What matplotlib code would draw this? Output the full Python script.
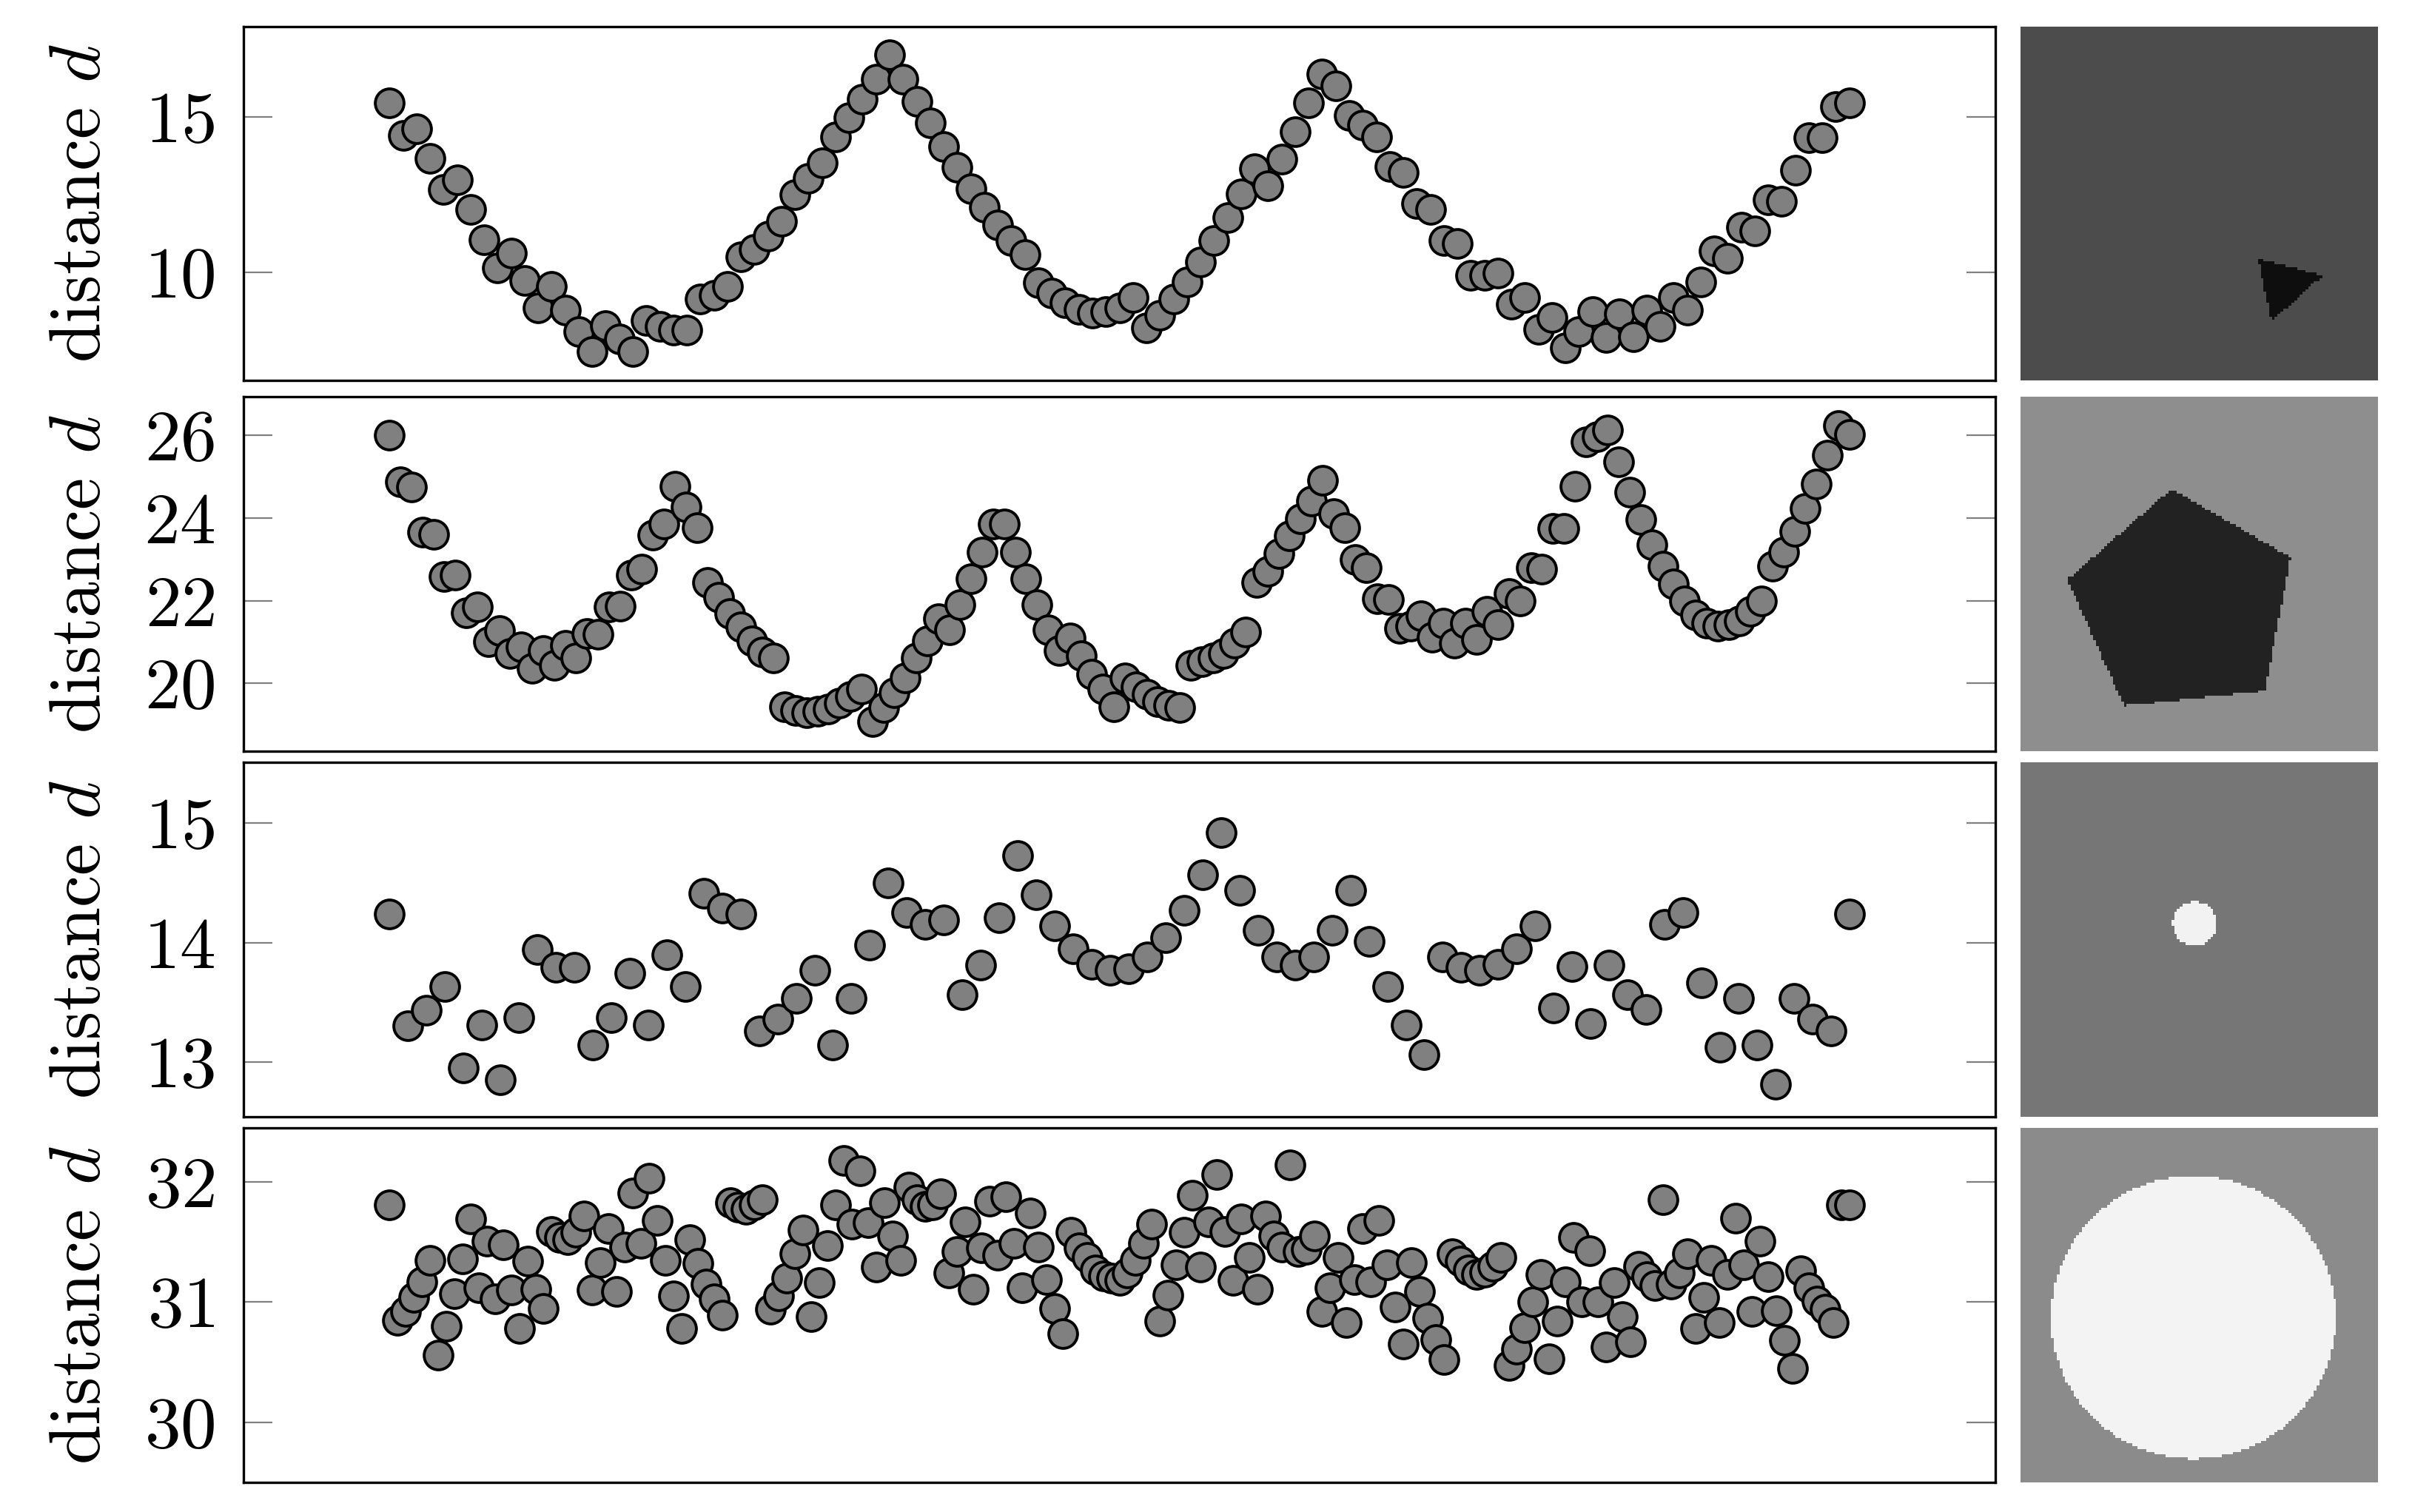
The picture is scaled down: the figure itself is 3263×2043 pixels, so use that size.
import numpy as np
import matplotlib
matplotlib.use('Agg')
from matplotlib import pyplot as plt
from matplotlib.path import Path

plt.rcParams['font.family'] = 'serif'
plt.rcParams['font.serif'] = ['cmr10']
plt.rcParams['mathtext.fontset'] = 'cm'
plt.rcParams['axes.formatter.use_mathtext'] = True

# distance d (samples evenly spaced along the contour)
d_triangle = [15.44, 14.40, 14.62, 13.66, 12.67, 12.97, 12.01, 11.05, 10.14, 10.61,
              9.74, 8.86, 9.54, 8.78, 8.10, 7.46, 8.30, 7.86, 7.46, 8.46,
              8.26, 8.14, 8.14, 9.14, 9.26, 9.54, 10.49, 10.73, 11.17, 11.65,
              12.49, 13.01, 13.52, 14.36, 14.96, 15.56, 16.20, 16.99, 16.20, 15.48,
              14.80, 14.04, 13.37, 12.69, 12.09, 11.53,
              11.01, 10.57, 9.66, 9.34, 9.02, 8.82, 8.70, 8.74, 8.86, 9.18,
              8.22, 8.62, 9.14, 9.70, 10.33, 11.01, 11.77, 12.53, 13.33, 12.77,
              13.64, 14.52, 15.44, 16.36, 16.00, 15.04, 14.72, 14.36, 13.41, 13.21,
              12.21, 12.01, 11.01, 10.93, 9.90, 9.90, 9.98, 8.98, 9.18, 8.18,
              8.54, 7.58, 8.10, 8.74, 7.90, 8.66, 7.94, 8.78, 8.26, 9.18,
              8.78, 9.70, 10.69, 10.45, 11.45, 11.33, 12.33, 12.29, 13.29, 14.32,
              14.32, 15.32, 15.44]

d_pentagon = [26.00, 24.88, 24.74, 23.65, 23.60, 22.59, 22.62, 21.71, 21.84, 21.00,
              21.27, 20.73, 20.88, 20.37, 20.79, 20.43, 20.91, 20.61, 21.21, 21.18,
              21.84, 21.87, 22.62, 22.77, 23.59, 23.86, 24.76, 24.26, 23.77, 22.44,
              22.08, 21.69, 21.36, 21.03, 20.76, 20.61, 19.44, 19.35, 19.29, 19.32,
              19.38, 19.53, 19.68, 19.86, 19.08, 19.41, 19.77, 20.13, 20.61, 21.03,
              21.57, 21.30, 21.90, 22.53, 23.17, 23.86, 23.86, 23.17, 22.53, 21.90,
              21.30, 20.79, 21.09, 20.67, 20.22, 19.86,
              19.44, 20.13, 19.92, 19.74, 19.56, 19.47, 19.42, 20.43, 20.52, 20.61,
              20.73, 20.97, 21.24, 22.44, 22.71, 23.14, 23.56, 23.98, 24.40, 24.91,
              24.10, 23.77, 22.99, 22.80, 22.05, 22.02, 21.33, 21.39, 21.63, 21.12,
              21.45, 20.97, 21.45, 21.06, 21.75, 21.42, 22.17, 21.99, 22.80, 22.77,
              23.74, 23.74, 24.77, 25.84, 25.96, 26.13, 25.35, 24.62, 23.96, 23.36,
              22.83, 22.41, 21.99, 21.66, 21.45, 21.39, 21.42, 21.51, 21.75, 21.99,
              22.83, 23.17, 23.68, 24.22, 24.82, 25.51, 26.23, 26.01]

d_small_disc = [14.24, 13.30, 13.43, 13.63, 12.95, 13.31, 12.85, 13.37, 13.94, 13.79,
                13.79, 13.14, 13.37, 13.74, 13.31, 13.90, 13.63, 14.41, 14.29, 14.24,
                13.26, 13.36, 13.53, 13.77, 13.14, 13.53, 13.98, 14.50, 14.25, 14.15,
                14.19, 13.56, 13.81, 14.21, 14.73, 14.40, 14.14, 13.95, 13.82, 13.77,
                13.78, 13.88, 14.04, 14.27, 14.57, 14.92, 14.44, 14.10, 13.88, 13.81,
                13.88, 14.10, 14.44, 14.01, 13.63, 13.31, 13.06, 13.88, 13.79, 13.77,
                13.82, 13.95, 14.14, 13.45, 13.80, 13.32, 13.81, 13.56, 13.44, 14.15,
                14.25, 13.66, 13.12, 13.53, 13.14, 12.81, 13.53, 13.36, 13.26, 14.24]

d_big_disc = [31.81, 30.85, 30.92, 31.04, 31.17, 31.35, 30.56, 30.80, 31.07, 31.36,
              31.69, 31.12, 31.51, 31.03, 31.48, 31.10, 30.78, 31.34, 31.11, 30.95,
              31.59, 31.54, 31.52, 31.58, 31.72, 31.10, 31.33, 31.61, 31.09, 31.46,
              31.91, 31.49, 32.03, 31.68, 31.35, 31.05, 30.78, 31.52, 31.32, 31.15,
              31.03, 30.89, 31.83, 31.79, 31.77, 31.81, 31.85, 30.94, 31.05, 31.20,
              31.40, 31.60, 30.88, 31.16, 31.47, 31.81, 32.18, 31.65, 32.09, 31.66,
              31.29, 31.83, 31.55, 31.35, 31.96, 31.85, 31.80, 31.81, 31.90, 31.24,
              31.42, 31.67, 31.11, 31.45, 31.84, 31.39, 31.88, 31.49, 31.12, 31.74,
              31.46, 31.19, 30.95, 30.74, 31.58, 31.45, 31.37, 31.27, 31.22, 31.20,
              31.18, 31.24, 31.35, 31.49, 31.65, 30.84, 31.06, 31.31, 31.58, 31.89,
              31.29, 31.67, 32.06, 31.59, 31.18, 31.69, 31.37, 31.11, 31.72, 31.55,
              31.46, 32.14, 31.42, 31.44, 31.55, 30.92, 31.12, 31.37, 30.83, 31.19,
              31.61, 31.17, 31.68, 31.31, 30.96, 30.65, 31.33, 31.09, 30.87, 30.69,
              30.52, 31.40, 31.34, 31.27, 31.23, 31.25, 31.30, 31.37, 30.47, 30.61,
              30.79, 31.00, 31.23, 30.53, 30.84, 31.17, 31.54, 31.00, 31.43, 31.00,
              30.63, 31.16, 30.88, 30.67, 31.30, 31.21, 31.14, 31.85, 31.15, 31.24,
              31.40, 30.78, 31.04, 31.35, 30.83, 31.23, 31.70, 31.31, 30.92, 31.51,
              31.21, 30.93, 30.68, 30.45, 31.26, 31.12, 31.01, 30.94, 30.83, 31.81,
              31.81]

ylims = [(6.53, 17.89), (18.36, 26.93), (12.54, 15.51), (29.50, 32.45)]
yticks = [[10, 15], [20, 22, 24, 26], [13, 14, 15], [30, 31, 32]]

# test images: background grey, shape grey, shape geometry (fractions of the image)
bg_grey = [0.298, 0.557, 0.463, 0.545]
fg_grey = [0.055, 0.133, 0.949, 0.957]
triangle = [(0.664, 0.656), (0.845, 0.703), (0.702, 0.834)]
pentagon = [(0.4225, 0.26), (0.756, 0.454), (0.683, 0.83), (0.29, 0.872), (0.131, 0.516)]
small_disc = (0.487, 0.455, 0.062)
big_disc = (0.484, 0.536, 0.398)
shapes = [triangle, pentagon, small_disc, big_disc]

NPIX = 128


def make_image(shape, bg, fg):
    u, v = np.meshgrid((np.arange(NPIX) + 0.5) / NPIX, (np.arange(NPIX) + 0.5) / NPIX)
    if isinstance(shape, tuple):
        cx, cy, r = shape
        inside = (u - cx)**2 + (v - cy)**2 < r**2
    else:
        pts = np.column_stack((u.ravel(), v.ravel()))
        inside = Path(shape).contains_points(pts).reshape(u.shape)
    img = np.full(u.shape, bg)
    img[inside] = fg
    return img


W, H = 3263, 2043
fig = plt.figure(figsize=(W / 200, H / 200), dpi=200)

tops = [36, 536, 1030, 1524]
bottoms = [514, 1015, 1509, 2003]
data = [d_triangle, d_pentagon, d_small_disc, d_big_disc]

for i in range(4):
    t, b = tops[i], bottoms[i]
    ax = fig.add_axes([329 / W, 1 - b / H, 2367 / W, (b - t) / H])
    d = data[i]
    x = np.linspace(0, 1, len(d))
    ax.scatter(x, d, s=195, c='#808080', edgecolors='k', linewidths=1.4, zorder=3)
    ax.set_xlim(-0.1, 1.1)
    ax.set_ylim(ylims[i])
    ax.set_yticks(yticks[i])
    ax.set_xticks([])
    ax.tick_params(axis='y', direction='in', length=14, width=0.8, color='#808080',
                   left=True, right=True, labelsize=35, pad=14)
    for s in ax.spines.values():
        s.set_linewidth(1.2)
    ax.set_ylabel(r'distance $d$', fontsize=35)
    ax.yaxis.set_label_coords(-0.074, 0.5)

    axi = fig.add_axes([2730 / W, 1 - b / H, 482 / W, (b - t) / H])
    axi.imshow(make_image(shapes[i], bg_grey[i], fg_grey[i]), cmap='gray',
               vmin=0, vmax=1, aspect='auto')
    axi.axis('off')

fig.savefig('out.png', dpi=200)
